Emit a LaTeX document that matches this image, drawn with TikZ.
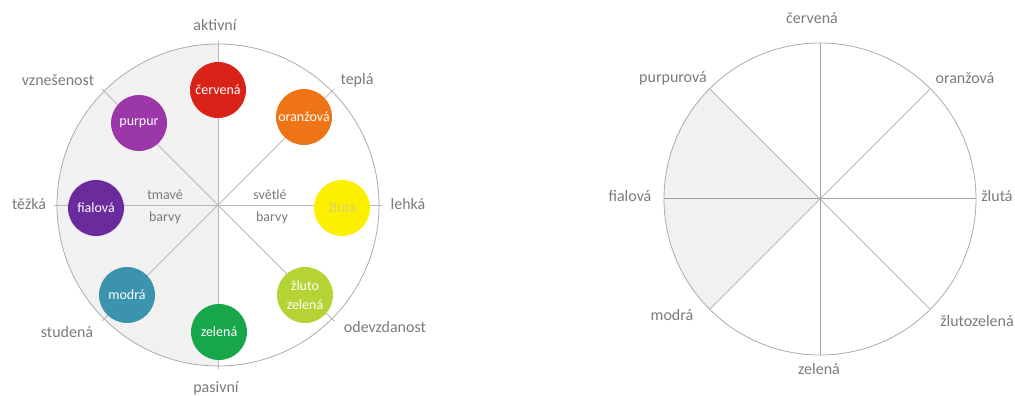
\documentclass[tikz,border=0pt]{standalone}
\usepackage{fontspec}
\setmainfont{Carlito}
\usetikzlibrary{positioning}
\definecolor{txtgray}{HTML}{7A7A7A}
\definecolor{linegray}{HTML}{B8B8B8}
\definecolor{rimgray}{HTML}{ABABAB}
\definecolor{axisgray}{HTML}{A2A2A2}
\definecolor{shadegray}{HTML}{F1F1F1}
\definecolor{cRed}{HTML}{DA2318}
\definecolor{cOrange}{HTML}{EE7416}
\definecolor{cYellow}{HTML}{FCF000}
\definecolor{cYellowTxt}{HTML}{D6CF78}
\definecolor{cLime}{HTML}{B4D334}
\definecolor{cGreen}{HTML}{17A74A}
\definecolor{cBlue}{HTML}{3B93AD}
\definecolor{cViolet}{HTML}{6A2C9C}
\definecolor{cPurple}{HTML}{9B37A8}
\tikzset{
  spoke/.style={draw=linegray, line width=0.9pt},
  axis/.style={draw=axisgray, line width=1pt},
  rim/.style={draw=rimgray, line width=0.8pt},
  dot/.style={circle, minimum size=56pt, inner sep=0pt, text=white,
    font=\fontsize{14}{14}\selectfont, align=center},
  lab/.style={text=txtgray, inner sep=0pt, font=\fontsize{16}{18}\selectfont},
  small/.style={text=txtgray, inner sep=0pt, font=\fontsize{14}{16}\selectfont},
}

\begin{document}
\begin{tikzpicture}[x=1pt, y=1pt]
    \useasboundingbox (0,0) rectangle (1015,396);

    % left wheel
    \coordinate (lc) at (218,191);
    \fill [shadegray] (lc) -- ++(90:161) arc (90:270:161) -- cycle;
    \foreach \a in {0,45,...,315}
        \draw [spoke] (lc) -- ++(\a:164);
    \draw [rim] (lc) circle (161);

    \node (red) at (218,306) [dot, fill=cRed] {červená};
    \node (purple) at (139,273) [dot, fill=cPurple] {purpur};
    \node (orange) at (304,279) [dot, fill=cOrange] {oranžová};
    \node (violet) at (96,188) [dot, fill=cViolet] {fialová};
    \node (yellow) at (342,188) [dot, fill=cYellow, text=cYellowTxt] {žlutá};
    \node (blue) at (127,101) [dot, fill=cBlue] {modrá};
    \node (green) at (219,64) [dot, fill=cGreen] {zelená};
    \node (lime) at (305,101) [dot, fill=cLime] {žluto\\[5pt]zelená};

    \node (dark) at (165,201) [small] {tmavé};
    \node (darkb) at (165,178) [small] {barvy};
    \node (light) at (270,201) [small] {světlé};
    \node (lightb) at (272,178) [small] {barvy};

    \node (active) at (215,371) [lab] {aktivní};
    \node (noble) at (58,316) [lab] {vznešenost};
    \node (warm) at (357,316) [lab] {teplá};
    \node (heavy) at (29,192) [lab] {těžká};
    \node (easy) at (408,192) [lab] {lehká};
    \node (cold) at (67,64) [lab] {studená};
    \node (yield) at (385,69) [lab] {odevzdanost};
    \node (passive) at (216,8) [lab] {pasivní};

    % right wheel
    \coordinate (rc) at (820,197);
    \fill [shadegray] (rc) -- ++(135:156) arc (135:225:156) -- cycle;
    \foreach \a in {45,135,225,315}
        \draw [spoke] (rc) -- ++(\a:156);
    \foreach \a in {0,90,180,270}
        \draw [axis] (rc) -- ++(\a:156);
    \draw [rim] (rc) circle (156);

    \node (nred) at (812,378) [lab] {červená};
    \node (npurple) at (673,318) [lab] {purpurová};
    \node (norange) at (965,318) [lab] {oranžová};
    \node (nviolet) at (630,200) [lab] {fialová};
    \node (nyellow) at (997,200) [lab] {žlutá};
    \node (nblue) at (672,81) [lab] {modrá};
    \node (nlime) at (977,75) [lab] {žlutozelená};
    \node (ngreen) at (819,27) [lab] {zelená};
\end{tikzpicture}
\end{document}
